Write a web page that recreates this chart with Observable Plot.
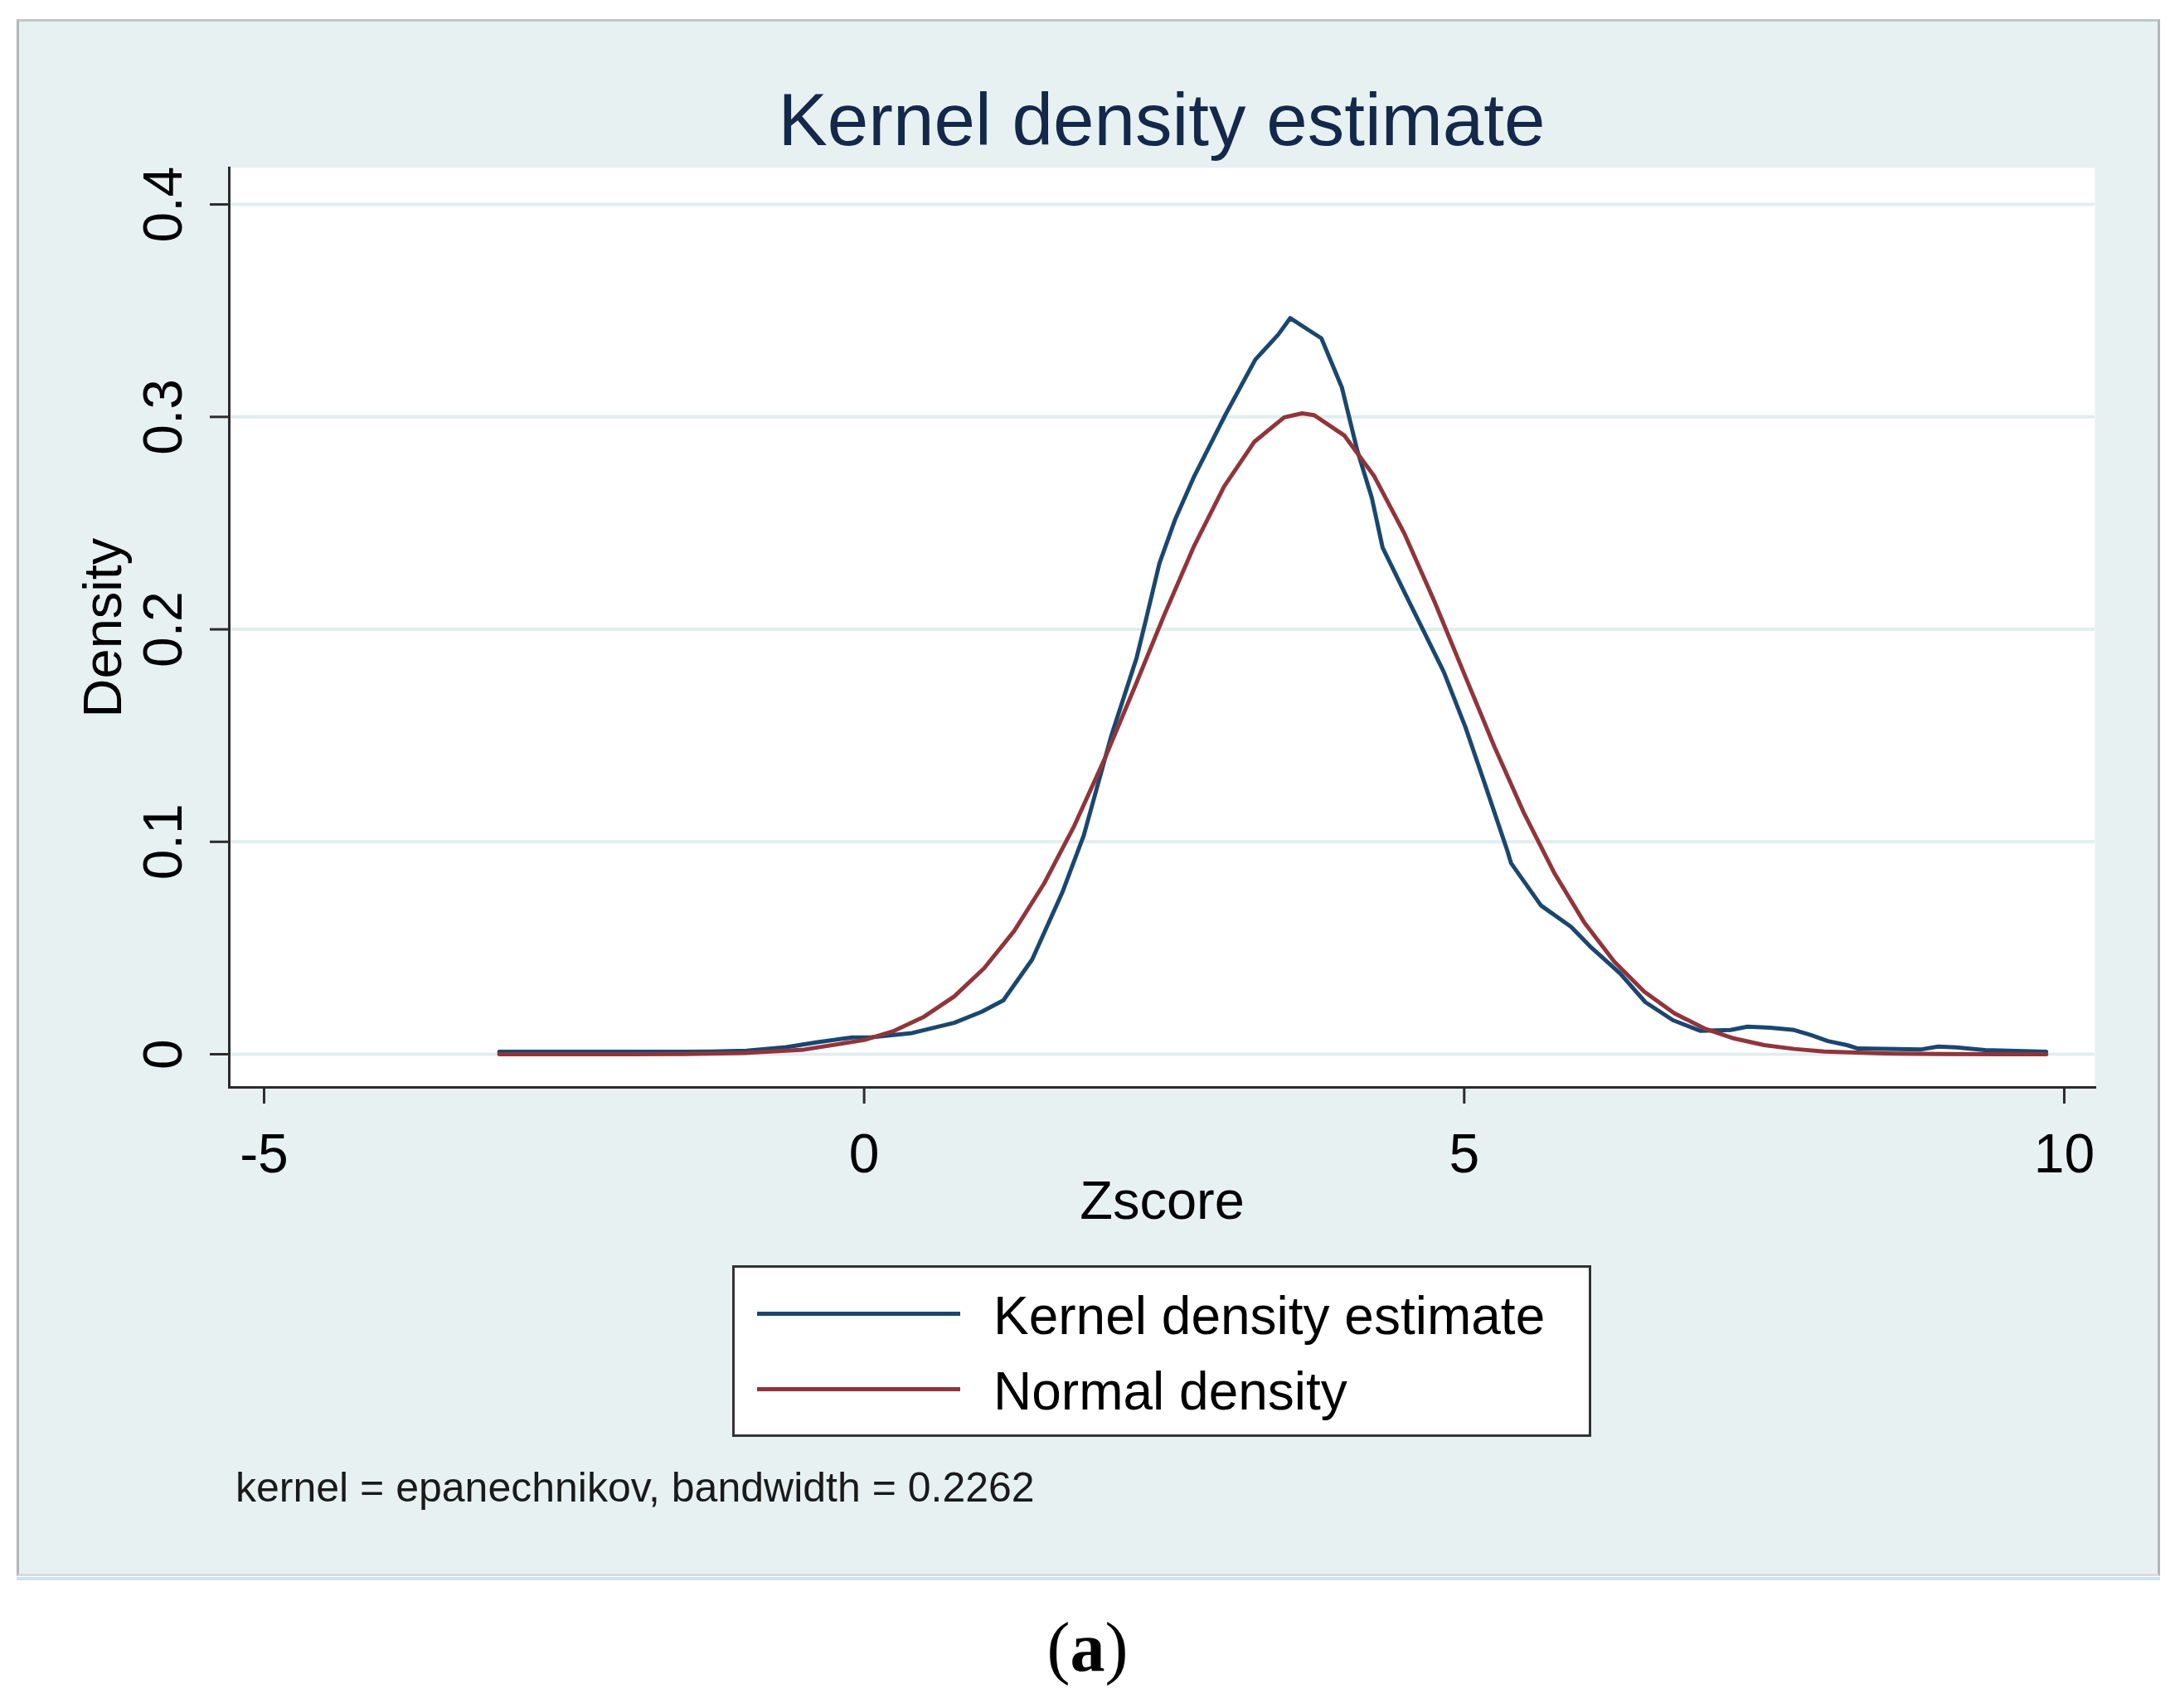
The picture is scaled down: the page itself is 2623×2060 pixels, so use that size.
<!DOCTYPE html>
<html>
<head>
<meta charset="utf-8">
<script src="https://cdn.jsdelivr.net/npm/d3@7"></script>
<script src="https://cdn.jsdelivr.net/npm/@observablehq/plot@0.6"></script>
<style>
  html, body { margin: 0; padding: 0; background: #ffffff; width: 2623px; height: 2060px; overflow: hidden;
    font-family: "Liberation Sans", Arial, sans-serif; }
  .abs { position: absolute; }
  #panel { left: 20px; top: 23px; width: 2585px; height: 1878px; background: #e7f1f2; box-sizing: border-box;
    border-left: 3px solid #b2b6b7; border-top: 3px solid #c2c6c7; border-right: 3px solid #b2b6b7; border-bottom: 3px solid #d8dcdd; }
  #panelLine { left: 20px; top: 1902px; width: 2585px; height: 4px; background: #cfe2ee; }
  #title { left: 276px; width: 2250px; top: 100px; text-align: center; font-size: 89px; line-height: 88px; color: #13284a; white-space: nowrap; }
  #chart { left: 20px; top: 23px; }
  #legend { left: 883px; top: 1526px; width: 1036px; height: 207px; background: #ffffff; border: 3px solid #333333; box-sizing: border-box; }
  .lgline { height: 5px; width: 245px; left: 913px; }
  .lgtext { left: 1198px; font-size: 64px; line-height: 64px; color: #000; white-space: nowrap; }
  #note { left: 284px; top: 1769px; font-size: 50px; line-height: 50px; color: #1a1a1a; white-space: nowrap; }
  #sub { left: 0; width: 2623px; top: 1945px; text-align: center; font-family: "Liberation Serif", "Times New Roman", serif; font-size: 84px; line-height: 84px; color: #000; }
</style>
</head>
<body>
<div id="panel" class="abs"></div>
<div id="panelLine" class="abs"></div>
<div id="title" class="abs">Kernel density estimate</div>
<div id="chart" class="abs"></div>
<div id="legend" class="abs"></div>
<div class="abs lgline" id="lg1" style="top:1582px;"></div>
<div class="abs lgline" id="lg2" style="top:1673px;"></div>
<div class="abs lgtext" id="lt1" style="top:1555px;"></div>
<div class="abs lgtext" id="lt2" style="top:1646px;"></div>
<div id="note" class="abs">kernel = epanechnikov, bandwidth = 0.2262</div>
<div id="sub" class="abs">(<b>a</b>)</div>
<script>
// ---- data ----
const seriesNames = ["Kernel density estimate", "Normal density"];
const seriesColors = ["#1a476f", "#90353b"];
const xTicks = [-5, 0, 5, 10];
const yTicks = [0, 0.1, 0.2, 0.3, 0.4];
const xTickLabels = ["-5", "0", "5", "10"];
const yTickLabels = ["0", "0.1", "0.2", "0.3", "0.4"];

const kdeX = [-3.04, -2.5, -2.0, -1.5, -1.27, -0.98, -0.65, -0.40, -0.10, 0.06, 0.40, 0.75, 0.98, 1.16, 1.40, 1.65, 1.83, 2.06, 2.27, 2.35, 2.46, 2.59, 2.75, 3.01, 3.26, 3.45, 3.55, 3.70, 3.81, 3.98, 4.11, 4.23, 4.32, 4.55, 4.83, 5.01, 5.17, 5.36, 5.39, 5.64, 5.89, 6.05, 6.30, 6.51, 6.74, 6.97, 7.22, 7.36, 7.55, 7.75, 7.89, 8.03, 8.19, 8.28, 8.81, 8.95, 9.10, 9.34, 9.85];
const kdeY = [0.0012, 0.0012, 0.0012, 0.0012, 0.0013, 0.0017, 0.0033, 0.0056, 0.0079, 0.0080, 0.0100, 0.0148, 0.0200, 0.0254, 0.0446, 0.0760, 0.1030, 0.1500, 0.1865, 0.2050, 0.2310, 0.2515, 0.2720, 0.3010, 0.3270, 0.3387, 0.3465, 0.3410, 0.3370, 0.3140, 0.2840, 0.2620, 0.2385, 0.2120, 0.1800, 0.1540, 0.1276, 0.0957, 0.0900, 0.0700, 0.0600, 0.0507, 0.0380, 0.0245, 0.0160, 0.0110, 0.0114, 0.0130, 0.0125, 0.0114, 0.0090, 0.0062, 0.0043, 0.0027, 0.0023, 0.0036, 0.0032, 0.0020, 0.0012];

const normX = [-3.04, -2.5, -2.0, -1.5, -1.0, -0.5, 0, 0.25, 0.5, 0.75, 1.0, 1.25, 1.5, 1.75, 2.0, 2.25, 2.5, 2.75, 3.0, 3.25, 3.5, 3.65, 3.75, 4.0, 4.25, 4.5, 4.75, 5.0, 5.25, 5.5, 5.75, 6.0, 6.25, 6.5, 6.75, 7.0, 7.25, 7.5, 7.75, 8.0, 8.5, 9.0, 9.5, 9.85];
const normY = [0, 0, 0, 0.0001, 0.0006, 0.0022, 0.0067, 0.0110, 0.0177, 0.0272, 0.0405, 0.0580, 0.0804, 0.1074, 0.1385, 0.1722, 0.2067, 0.2393, 0.2673, 0.2882, 0.2998, 0.3017, 0.3008, 0.2913, 0.2721, 0.2453, 0.2134, 0.1791, 0.1450, 0.1133, 0.0854, 0.0621, 0.0436, 0.0295, 0.0193, 0.0122, 0.0074, 0.0043, 0.0025, 0.0013, 0.0004, 0.0001, 0, 0];

const note = "kernel = epanechnikov, bandwidth = 0.2262";
const xLabel = "Zscore";
const yLabel = "Density";

// ---- build ----
const kde = kdeX.map((x, i) => ({x, y: kdeY[i]}));
const norm = normX.map((x, i) => ({x, y: normY[i]}));
const axisColor = "#2b2b2b";
const font = "\"Liberation Sans\", Arial, sans-serif";

const chart = Plot.plot({
  width: 2585,
  height: 1477,
  marginLeft: 256,
  marginRight: 79,
  marginTop: 179,
  marginBottom: 189,
  x: {domain: [-5.29, 10.256]},
  y: {domain: [-0.0156, 0.4172]},
  style: {background: "transparent", fontFamily: font, color: "#000", overflow: "visible"},
  marks: [
    Plot.frame({fill: "white", stroke: null}),
    Plot.gridY(yTicks, {stroke: "#e1edef", strokeOpacity: 1, strokeWidth: 4}),
    Plot.line(kde, {x: "x", y: "y", stroke: seriesColors[0], strokeWidth: 5, strokeLinejoin: "round"}),
    Plot.line(norm, {x: "x", y: "y", stroke: seriesColors[1], strokeWidth: 5, strokeLinejoin: "round"}),
    Plot.frame({anchor: "left", stroke: axisColor, strokeWidth: 3}),
    Plot.frame({anchor: "bottom", stroke: axisColor, strokeWidth: 3}),
    Plot.axisX(xTicks, {tickSize: 20, tickPadding: 36, fontSize: 66, stroke: axisColor, strokeWidth: 3,
      tickFormat: d => xTickLabels[xTicks.indexOf(d)], label: null}),
    Plot.axisY(yTicks, {tickSize: 23, stroke: axisColor, strokeWidth: 3, tickFormat: () => "", label: null}),
    Plot.text(yTicks, {y: d => d, frameAnchor: "left", dx: -79, rotate: -90, text: (d, i) => yTickLabels[i],
      fontSize: 66, fill: "#000", textAnchor: "middle", lineAnchor: "middle"}),
    Plot.text([yLabel], {frameAnchor: "left", dx: -151, rotate: -90, text: d => d, fontSize: 65, fill: "#000",
      textAnchor: "middle", lineAnchor: "middle"}),
    Plot.text([xLabel], {frameAnchor: "bottom", dy: 138, text: d => d, fontSize: 65, fill: "#000",
      textAnchor: "middle", lineAnchor: "middle"})
  ]
});
document.getElementById("chart").appendChild(chart);

document.getElementById("lg1").style.background = seriesColors[0];
document.getElementById("lg2").style.background = seriesColors[1];
document.getElementById("lt1").textContent = seriesNames[0];
document.getElementById("lt2").textContent = seriesNames[1];
document.getElementById("note").textContent = note;
</script>
</body>
</html>
